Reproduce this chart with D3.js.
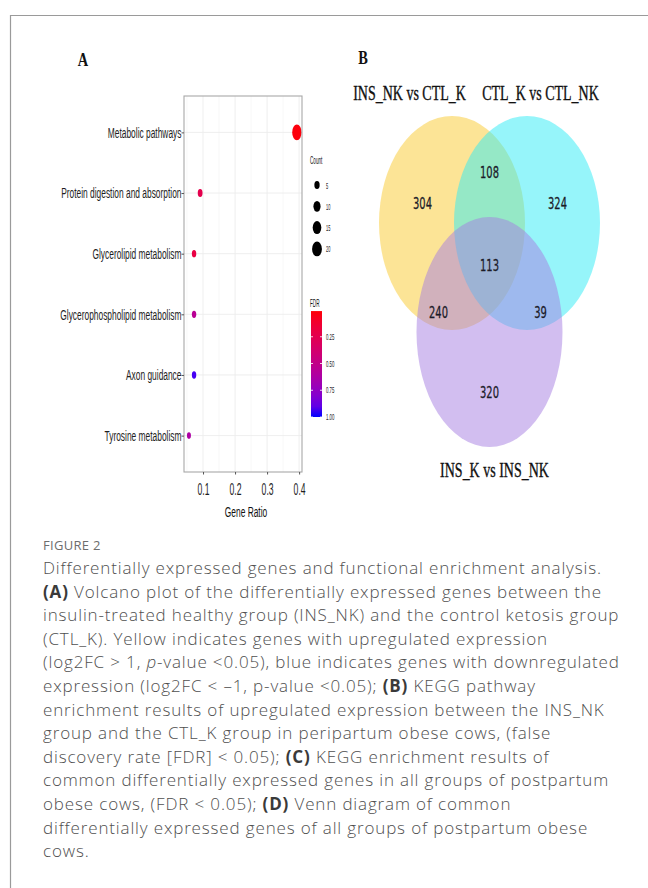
<!DOCTYPE html>
<html>
<head>
<meta charset="utf-8">
<script src="https://cdn.jsdelivr.net/npm/d3@7"></script>
<style>
  html, body { margin: 0; padding: 0; background: #fff; }
  svg { display: block; }
</style>
</head>
<body>
<script>
// ---- Panel A: KEGG enrichment dot plot ----
const categories = [
  "Metabolic pathways",
  "Protein digestion and absorption",
  "Glycerolipid metabolism",
  "Glycerophospholipid metabolism",
  "Axon guidance",
  "Tyrosine metabolism"
];
const geneRatio = [0.393, 0.091, 0.072, 0.072, 0.072, 0.056];
const geneCount = [22, 5, 4, 4, 4, 3];
const fdrValues = [0.02, 0.24, 0.2, 0.55, 0.95, 0.62];
const xTicks = [0.1, 0.2, 0.3, 0.4];
const countLegend = [5, 10, 15, 20];
const fdrLegendTicks = [0.25, 0.5, 0.75, 1.0];

// ---- Panel B: Venn diagram ----
const setNames = ["INS_NK vs CTL_K", "CTL_K vs CTL_NK", "INS_K vs INS_NK"];
const setColors = ["#f9c92d", "#2debf5", "#a57de1"];
const regionKeys = ["A", "AB", "B", "ABC", "AC", "BC", "C"];
const regionCounts = [304, 108, 324, 113, 240, 39, 320];

// ---- Caption ----
const captionTitle = "FIGURE 2";
const captionLines = [
  [["Differentially expressed genes and functional enrichment analysis.", "n"]],
  [["(A)", "b"], [" Volcano plot of the differentially expressed genes between the", "n"]],
  [["insulin-treated healthy group (INS_NK) and the control ketosis group", "n"]],
  [["(CTL_K). Yellow indicates genes with upregulated expression", "n"]],
  [["(log2FC > 1, ", "n"], ["p", "i"], ["-value <0.05), blue indicates genes with downregulated", "n"]],
  [["expression (log2FC < \u20131, p-value <0.05); ", "n"], ["(B)", "b"], [" KEGG pathway", "n"]],
  [["enrichment results of upregulated expression between the INS_NK", "n"]],
  [["group and the CTL_K group in peripartum obese cows, (false", "n"]],
  [["discovery rate [FDR] < 0.05); ", "n"], ["(C)", "b"], [" KEGG enrichment results of", "n"]],
  [["common differentially expressed genes in all groups of postpartum", "n"]],
  [["obese cows, (FDR < 0.05); ", "n"], ["(D)", "b"], [" Venn diagram of common", "n"]],
  [["differentially expressed genes of all groups of postpartum obese", "n"]],
  [["cows.", "n"]]
];

const W = 648, H = 888;
const svg = d3.select("body").append("svg").attr("width", W).attr("height", H);
svg.append("rect").attr("width", W).attr("height", H).attr("fill", "#fff");

// frame
svg.append("path")
  .attr("d", `M10.5,${H} V15.5 H${W}`)
  .attr("fill", "none").attr("stroke", "#9a9a9a").attr("stroke-width", 1.2);

const narrow = 0.56;          // horizontal squeeze of the plot lettering
const sansA = "'Liberation Sans', Arial, sans-serif";
const serif = "'Liberation Serif', 'Times New Roman', serif";

// panel letters
svg.append("text").attr("transform", "translate(83,66) scale(0.8,1)")
  .attr("text-anchor", "middle").attr("font-family", serif).attr("font-weight", "bold")
  .attr("font-size", 18).attr("fill", "#111").text("A");
svg.append("text").attr("transform", "translate(363,64) scale(0.8,1)")
  .attr("text-anchor", "middle").attr("font-family", serif).attr("font-weight", "bold")
  .attr("font-size", 18).attr("fill", "#111").text("B");

// ---------- dot plot ----------
const pL = 184, pR = 302, pT = 96, pB = 472;
const x = d3.scaleLinear().domain([0.0406, 0.409]).range([pL, pR]);
const y = d3.scalePoint().domain(categories).range([pT, pB]).padding(0.6);
const size = d3.scaleRadial().domain([3, 22]).range([3.3, 7.8]);
const color = d3.scaleLinear().domain([0, 1]).range(["#ff0000", "#0000ff"]).interpolate(d3.interpolateLab);
const squash = 0.6; // dots are drawn as ellipses (narrower than tall)

const gA = svg.append("g");
gA.append("rect").attr("x", pL).attr("y", pT).attr("width", pR - pL).attr("height", pB - pT).attr("fill", "#fff");

// grid
const minor = d3.range(0.05, 0.41, 0.1);
gA.selectAll(".gmin").data(minor).join("line")
  .attr("x1", d => x(d)).attr("x2", d => x(d)).attr("y1", pT).attr("y2", pB)
  .attr("stroke", "#f4f4f4").attr("stroke-width", 0.6);
gA.selectAll(".gmaj").data(xTicks).join("line")
  .attr("x1", d => x(d)).attr("x2", d => x(d)).attr("y1", pT).attr("y2", pB)
  .attr("stroke", "#ececec").attr("stroke-width", 0.9);
gA.selectAll(".gh").data(categories).join("line")
  .attr("x1", pL).attr("x2", pR).attr("y1", d => y(d)).attr("y2", d => y(d))
  .attr("stroke", "#ececec").attr("stroke-width", 0.9);

// points
const rows = categories.map((c, i) => ({ c, ratio: geneRatio[i], count: geneCount[i], fdr: fdrValues[i] }));
gA.selectAll(".dot").data(rows).join("ellipse")
  .attr("cx", d => x(d.ratio)).attr("cy", d => y(d.c))
  .attr("rx", d => size(d.count) * squash).attr("ry", d => size(d.count))
  .attr("fill", d => color(d.fdr));

// panel border
gA.append("rect").attr("x", pL).attr("y", pT).attr("width", pR - pL).attr("height", pB - pT)
  .attr("fill", "none").attr("stroke", "#a8a8a8").attr("stroke-width", 1.1);

// axes
const axL = gA.append("g").attr("transform", `translate(${pL},0)`)
  .call(d3.axisLeft(y).tickSize(2.5).tickPadding(2));
const axB = gA.append("g").attr("transform", `translate(0,${pB})`)
  .call(d3.axisBottom(x).tickValues(xTicks).tickSize(2.5).tickPadding(9).tickFormat(d3.format(".1f")));
[axL, axB].forEach(ax => {
  ax.select(".domain").remove();
  ax.selectAll(".tick line").attr("stroke", "#555");
  ax.selectAll("text").attr("font-family", sansA).attr("fill", "#1e1e1e");
});
axL.selectAll("text").attr("font-size", 15).attr("transform", `scale(${narrow},1)`);
axB.selectAll("text").attr("font-size", 16).attr("transform", `scale(0.54,1)`);

gA.append("text").attr("transform", `translate(${(pL + pR) / 2 + 3},517) scale(${narrow},1)`)
  .attr("text-anchor", "middle").attr("font-family", sansA).attr("font-size", 15)
  .attr("fill", "#111").text("Gene Ratio");

// count legend
const lgX = 310;
const lgNarrow = 0.44;
gA.append("text").attr("transform", `translate(${lgX},164) scale(${lgNarrow},1)`)
  .attr("font-family", sansA).attr("font-size", 10.5).attr("fill", "#111").text("Count");
const cl = gA.selectAll(".cl").data(countLegend).join("g")
  .attr("transform", (d, i) => `translate(${lgX + 7},${185 + i * 21.3})`);
cl.append("ellipse").attr("rx", d => size(d) * 0.66).attr("ry", d => size(d)).attr("fill", "#000");
cl.append("text").attr("transform", `translate(9,3.5) scale(${lgNarrow},1)`)
  .attr("font-family", sansA).attr("font-size", 9).attr("fill", "#222").text(d => d);

// FDR colour bar
const fb = d3.scaleLinear().domain([0, 1]).range([310, 417]);
gA.append("text").attr("transform", `translate(${lgX},307) scale(${lgNarrow},1)`)
  .attr("font-family", sansA).attr("font-size", 10.5).attr("fill", "#111").text("FDR");
const grad = svg.append("defs").append("linearGradient").attr("id", "fdrGrad")
  .attr("x1", 0).attr("x2", 0).attr("y1", 0).attr("y2", 1);
d3.range(0, 1.0001, 0.1).forEach(t => {
  grad.append("stop").attr("offset", t).attr("stop-color", color(0.01 + t * 0.99));
});
gA.append("rect").attr("x", lgX + 1).attr("y", fb(0.01)).attr("width", 11)
  .attr("height", fb(1) - fb(0.01)).attr("fill", "url(#fdrGrad)");
const ft = gA.selectAll(".ft").data(fdrLegendTicks).join("g")
  .attr("transform", d => `translate(${lgX + 1},${fb(d)})`);
ft.append("line").attr("x1", 0).attr("x2", 2).attr("stroke", "#fff").attr("stroke-width", 0.8);
ft.append("line").attr("x1", 9).attr("x2", 11).attr("stroke", "#fff").attr("stroke-width", 0.8);
ft.append("text").attr("transform", `translate(15,3) scale(0.48,1)`)
  .attr("font-family", sansA).attr("font-size", 9).attr("fill", "#222").text(d => d3.format(".2f")(d));

// ---------- Venn diagram ----------
const vc = { x: 489.5, y: 262 };
const rx = 73, ryTop = 107, ryBot = 115;
const ellipses = [
  { cx: vc.x - 37.5, cy: vc.y - 39, rx, ry: ryTop },
  { cx: vc.x + 37.5, cy: vc.y - 39, rx, ry: ryTop },
  { cx: vc.x, cy: vc.y + 70, rx, ry: ryBot }
];
const gB = svg.append("g");
gB.selectAll(".set").data(ellipses).join("ellipse")
  .attr("cx", d => d.cx).attr("cy", d => d.cy).attr("rx", d => d.rx).attr("ry", d => d.ry)
  .attr("fill", (d, i) => setColors[i]).attr("fill-opacity", 0.5);

// region label anchors relative to the diagram centre
const regionOffset = {
  A: [-67, -59], AB: [0, -90], B: [68, -59], ABC: [0, 3],
  AC: [-51, 50], BC: [51, 50], C: [0, 130]
};
gB.selectAll(".num").data(regionKeys.map((k, i) => ({ k, n: regionCounts[i] }))).join("text")
  .attr("transform", d => `translate(${vc.x + regionOffset[d.k][0]},${vc.y + regionOffset[d.k][1] + 6}) scale(0.62,1)`)
  .attr("text-anchor", "middle").attr("font-family", "'DejaVu Sans', sans-serif")
  .attr("font-size", 16).attr("fill", "#1b1b28").attr("stroke", "#1b1b28").attr("stroke-width", 0.3)
  .text(d => d.n);

// set labels
const setLabelPos = [[vc.x - 80, 100], [vc.x + 51, 100], [vc.x + 5, 477]];
gB.selectAll(".sl").data(setNames).join("text")
  .attr("transform", (d, i) => `translate(${setLabelPos[i][0]},${setLabelPos[i][1]}) scale(0.7,1)`)
  .attr("text-anchor", "middle").attr("font-family", serif).attr("font-size", 20)
  .attr("fill", "#111").attr("stroke", "#111").attr("stroke-width", 0.35).text(d => d);

// ---------- caption ----------
const capFont = "'Open Sans', 'Noto Sans', sans-serif";
svg.append("text").attr("x", 43).attr("y", 550)
  .attr("font-family", capFont).attr("font-size", 13).attr("letter-spacing", 0.3)
  .attr("fill", "#6d6d6d").text(captionTitle);
const cap = svg.append("g");
captionLines.forEach((segs, i) => {
  const t = cap.append("text").attr("x", 43).attr("y", 574 + i * 23.6)
    .attr("font-family", capFont).attr("font-size", 17).attr("font-weight", 300)
    .attr("letter-spacing", 0.85).attr("fill", "#4f4f4f");
  segs.forEach(([s, st]) => {
    const sp = t.append("tspan").text(s);
    if (st === "b") sp.attr("font-weight", 700).attr("fill", "#3a3a3a");
    if (st === "i") sp.attr("font-style", "italic");
  });
});
</script>
</body>
</html>
